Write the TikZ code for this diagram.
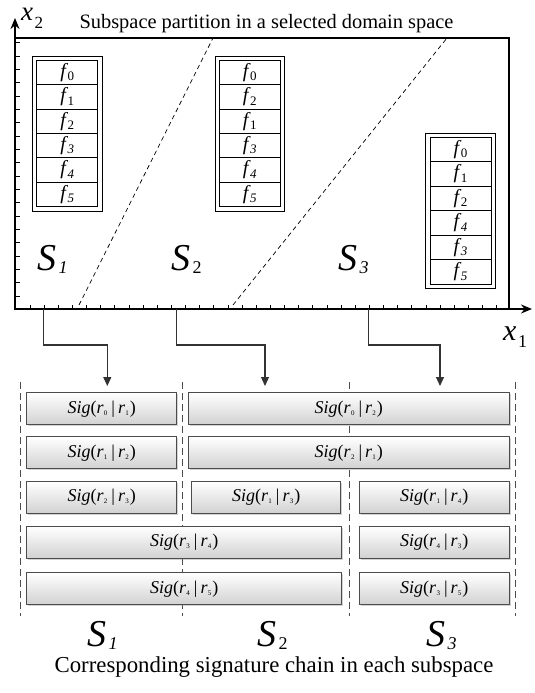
\documentclass[tikz,border=0pt]{standalone}
\usepackage{fontspec}
\setmainfont{Liberation Serif}
\usetikzlibrary{arrows.meta,shadows}
\newcommand{\sigtxt}[2]{\textit{Sig}(\textit{r}\kern0.3pt\raisebox{-2pt}{\fontsize{7}{7}\selectfont #1}\kern1pt\,|\,\textit{r}\kern0.3pt\raisebox{-2pt}{\fontsize{7}{7}\selectfont #2}\kern1pt)}
\newcommand{\fsub}[1]{\textit{f}\kern-0.5pt\raisebox{-3.5pt}{\fontsize{13}{13}\selectfont\ifnum#1>2 \itshape\fi #1}}
\newcommand{\slab}[2]{{\fontsize{38}{40}\selectfont\itshape S}\kern-2pt\raisebox{-3pt}[0pt][0pt]{\fontsize{18}{18}\selectfont #1 #2}}
\begin{document}
\begin{tikzpicture}[x=1pt,y=-1pt,
  axisline/.style={line width=2.4pt, -{Stealth[length=11pt,width=9pt]}},
  tickline/.style={line width=0.7pt},
  part/.style={line width=0.7pt, dash pattern=on 4.5pt off 3.5pt},
  conn/.style={line width=1.1pt, draw=black!80, -{Triangle[length=9pt,width=8pt]}},
  colsep/.style={draw=black!70, line width=0.9pt, dash pattern=on 7pt off 4pt},
  sigbox/.style={draw=black!70, line width=0.8pt, top color=white, bottom color=black!18,
     minimum height=32pt, inner sep=0pt, font=\fontsize{18}{20}\selectfont,
     drop shadow={shadow xshift=1.2pt, shadow yshift=-1.2pt, opacity=0.35, fill=black!50}},
  fcell/.style={draw, line width=0.8pt, minimum width=61pt, minimum height=24.45pt, inner sep=0pt, font=\fontsize{20}{22}\selectfont},
  lab/.style={inner sep=0pt}
]
\useasboundingbox (0,0) rectangle (535,693);

% title
\node[anchor=base, font=\fontsize{20.4}{22}\selectfont] (title) at (266.5,29) {Subspace partition in a selected domain space};

% domain rectangle
\draw[line width=2pt] (15,38) rectangle (509,309);

% ticks
\foreach \i in {0,...,19} \draw[tickline] (15,42.67+13.333*\i) -- ++(5,0);
\foreach \i in {0,...,33} \draw[tickline] (30+14.14*\i,309) -- ++(0,-4);

% axes
\coordinate (O) at (15,309);
\coordinate (ytip) at (15,18);
\coordinate (xtip) at (532,309);
\draw[axisline] (15,310.2) -- (ytip);
\draw[axisline] (13.8,309) -- (xtip);
\node[lab, anchor=base west] (x2) at (21,20.5) {\fontsize{27}{27}\selectfont\itshape\raisebox{0pt}[13pt][0pt]{x}\kern1.5pt\raisebox{-8pt}[0pt][0pt]{\fontsize{17}{17}\selectfont\upshape 2}};
\node[lab, anchor=base west] (x1) at (503,340) {\fontsize{30}{30}\selectfont\itshape x\kern1.5pt\raisebox{-7pt}[0pt][0pt]{\fontsize{18}{18}\selectfont\upshape 1}};

% partition lines
\draw[part] (79,305) -- (213,38);
\draw[part] (233,305) -- (447,38);

% feature tables
\foreach \tn/\L/\T/\lst in {1/36.7/60/{0,1,2,3,4,5}, 2/219.3/60/{0,2,1,3,4,5}, 3/430/137.3/{0,1,2,4,3,5}} {
  \draw[line width=0.8pt] (\L-4.4,\T-4) rectangle (\L+61+4.4,\T+146.7+4.3);
  \foreach \v [count=\k from 0] in \lst
    \node[fcell] (t\tn r\k) at (\L+30.5,\T+12.225+24.45*\k) {\fsub{\v}};
}

% region labels
\node[lab, anchor=base west] (S1t) at (37,270) {\slab{\itshape}{1}};
\node[lab, anchor=base west] (S2t) at (171,270) {\slab{\upshape}{2}};
\node[lab, anchor=base west] (S3t) at (338,270) {\slab{\itshape}{3}};

% connectors
\coordinate (a1) at (43.3,309);
\coordinate (a2) at (176.7,309);
\coordinate (a3) at (368.3,309);
\coordinate (b1) at (107.3,386);
\coordinate (b2) at (265,386);
\coordinate (b3) at (440,386);
\draw[conn] (a1) -- ++(0,36) -| (b1);
\draw[conn] (a2) -- ++(0,36) -| (b2);
\draw[conn] (a3) -- ++(0,36) -| (b3);

% column separators
\foreach \n/\xx in {1/20.7,2/182.7,3/349,4/515.7} {
  \coordinate (d\n t) at (\xx,382);
  \coordinate (d\n b) at (\xx,616);
  \draw[colsep] (d\n t) -- (d\n b);
}

% signature boxes
\node[sigbox, minimum width=150pt] (s11) at (101.7,408.8) {\sigtxt{0}{1}};
\node[sigbox, minimum width=321pt] (s12) at (348.8,408.8) {\sigtxt{0}{2}};
\node[sigbox, minimum width=150pt] (s21) at (101.7,452.8) {\sigtxt{1}{2}};
\node[sigbox, minimum width=321pt] (s22) at (348.8,452.8) {\sigtxt{2}{1}};
\node[sigbox, minimum width=150pt] (s31) at (101.7,497.5) {\sigtxt{2}{3}};
\node[sigbox, minimum width=149pt] (s32) at (266.2,497.5) {\sigtxt{1}{3}};
\node[sigbox, minimum width=150pt] (s33) at (434.3,497.5) {\sigtxt{1}{4}};
\node[sigbox, minimum width=315pt] (s41) at (184.25,542.6) {\sigtxt{3}{4}};
\node[sigbox, minimum width=150pt] (s42) at (434.3,542.6) {\sigtxt{4}{3}};
\node[sigbox, minimum width=315pt] (s51) at (184.25,588.8) {\sigtxt{4}{5}};
\node[sigbox, minimum width=150pt] (s52) at (434.3,588.8) {\sigtxt{3}{5}};

% bottom labels
\node[lab, anchor=base west] (S1b) at (87,646) {\slab{\itshape}{1}};
\node[lab, anchor=base west] (S2b) at (257,646) {\slab{\upshape}{2}};
\node[lab, anchor=base west] (S3b) at (426,646) {\slab{\itshape}{3}};

% caption
\node[anchor=base, font=\fontsize{22.8}{24}\selectfont] (cap) at (274,672) {Corresponding signature chain in each subspace};
\end{tikzpicture}
\end{document}
